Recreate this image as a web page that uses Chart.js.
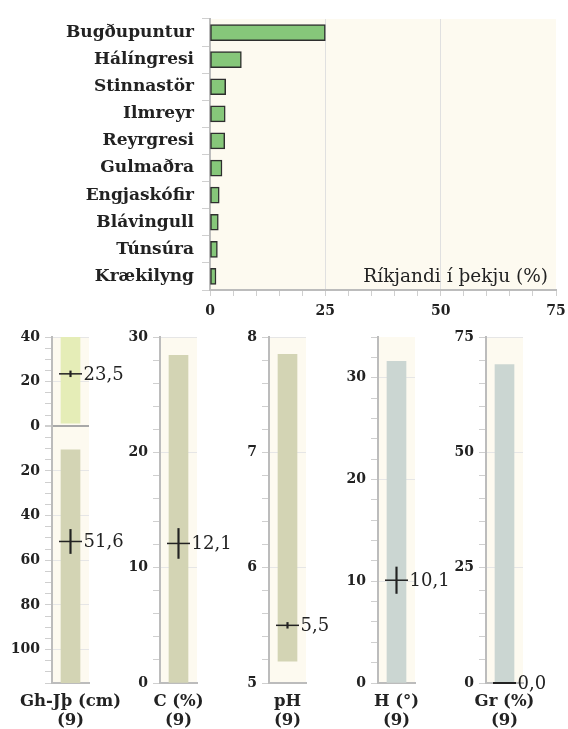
<!DOCTYPE html>
<html>
<head>
<meta charset="utf-8">
<script src="https://cdn.jsdelivr.net/npm/chart.js@4.4.1/dist/chart.umd.min.js"></script>
<style>
  html, body { margin: 0; padding: 0; background: #fff; }
  body { width: 568px; height: 729px; position: relative; overflow: hidden; }
  canvas { position: absolute; }
</style>
</head>
<body>
<canvas id="cover" width="568" height="320" style="left:0;top:0"></canvas>
<script>
// Ríkjandi tegundir
const species = ['Bugðupuntur', 'Hálíngresi', 'Stinnastör', 'Ilmreyr', 'Reyrgresi',
                 'Gulmaðra', 'Engjaskófir', 'Blávingull', 'Túnsúra', 'Krækilyng'];
const cover = [25.0, 6.8, 3.4, 3.3, 3.2, 2.6, 2.0, 1.8, 1.6, 1.3];
const coverTicks = [0, 25, 50, 75];
const coverTitle = 'Ríkjandi í þekju (%)';

// Litlu súlurnar
const panelNames = [['Gh-Jþ (cm)', '(9)'], ['C (%)', '(9)'], ['pH', '(9)'], ['H (°)', '(9)'], ['Gr (%)', '(9)']];
const panelMin = [-40, 0, 5, 0, 0];
const panelMax = [115, 30, 8, 34, 75];
const panelMinorStep = [5, 2, 0.2, 2, 5];
const panelMajorStep = [20, 10, 1, 10, 25];
const rangeLow = [10.5, 0, 5.19, 0, 0];
const rangeHigh = [115, 28.4, 7.85, 31.6, 69.0];
const meanValue = [51.6, 12.1, 5.5, 10.1, 0.0];
const meanError = [5.4, 1.3, 0.025, 1.3, 0];
// grunnvatnshæð ofan jarðar (teiknuð upp fyrir 0)
const ghRange = [-40, -1.4];
const ghMean = -23.5;
const ghError = 1.3;

const FONT = '"DejaVu Serif", serif';
const CREAM = '#fdfaf0';
const AXIS = '#bcbcbc';
const TICK = '#cfcfcf';
const INK = '#222';
const panelColors = ['#d3d4b4', '#d3d4b4', '#d3d4b4', '#cbd6d2', '#cbd6d2'];
const ghColor = '#e5edb7';
const panelAxisX = [52, 160, 269, 378, 486];

const fmt = v => Math.abs(v).toFixed(1).replace('.', ',');

// fylla teiknisvæðið með ljósum lit
const plotBg = {
  id: 'plotBg',
  beforeDraw(chart) {
    const a = chart.chartArea, ctx = chart.ctx;
    ctx.save();
    ctx.fillStyle = CREAM;
    ctx.fillRect(a.left, a.top, a.right - a.left, a.bottom - a.top);
    ctx.restore();
  }
};

// tölur við meðaltölin
const meanLabels = {
  id: 'meanLabels',
  afterDatasetsDraw(chart) {
    const ctx = chart.ctx;
    chart.data.datasets.forEach((ds, i) => {
      if (!ds.meanLabel) return;
      const pt = chart.getDatasetMeta(i).data[0];
      ctx.save();
      ctx.font = '18px ' + FONT;
      ctx.fillStyle = INK;
      ctx.textBaseline = 'middle';
      ctx.fillText(ds.meanLabel, pt.x + 13, pt.y + 1);
      ctx.restore();
    });
  }
};

// ásheiti inni í myndinni
const coverTitlePlugin = {
  id: 'coverTitle',
  afterDraw(chart) {
    const a = chart.chartArea, ctx = chart.ctx;
    ctx.save();
    ctx.font = '18.5px ' + FONT;
    ctx.fillStyle = INK;
    ctx.textAlign = 'right';
    ctx.textBaseline = 'alphabetic';
    ctx.fillText(coverTitle, a.right - 8, a.bottom - 8);
    ctx.restore();
  }
};

const noPad = s => { s.paddingLeft = 0; s.paddingRight = 0; s.paddingTop = 0; s.paddingBottom = 0; };

new Chart(document.getElementById('cover'), {
  type: 'bar',
  data: {
    labels: species,
    datasets: [{
      data: cover,
      backgroundColor: '#86c77a',
      borderColor: '#2e2e2e',
      borderWidth: 1.5,
      borderSkipped: false,
      barThickness: 16
    }]
  },
  options: {
    indexAxis: 'y',
    responsive: false,
    animation: false,
    layout: { padding: { top: 19, right: 12, left: 0, bottom: 0 } },
    plugins: { legend: { display: false }, tooltip: { enabled: false } },
    scales: {
      y: {
        afterFit: s => { s.width = 210; noPad(s); },
        ticks: { font: { family: FONT, size: 17, weight: 'bold' }, color: INK, padding: 8 },
        grid: { drawOnChartArea: false, tickLength: 8, tickColor: TICK, offset: true },
        border: { color: AXIS, width: 2 }
      },
      x: {
        min: 0, max: 75,
        afterFit: s => { s.height = 30; noPad(s); },
        ticks: {
          stepSize: 5, autoSkip: false, maxRotation: 0, maxTicksLimit: 100,
          font: { family: FONT, size: 14, weight: 'bold' }, color: INK, padding: 7,
          callback: v => coverTicks.includes(v) ? String(v) : ''
        },
        grid: {
          tickLength: 6, tickColor: TICK,
          color: c => (c.tick && (c.tick.value === 25 || c.tick.value === 50)) ? '#e0e0e0' : 'rgba(0,0,0,0)'
        },
        border: { color: AXIS, width: 2 }
      }
    }
  },
  plugins: [plotBg, coverTitlePlugin]
});

function isMajor(v, step) {
  const r = v / step;
  return Math.abs(r - Math.round(r)) < 1e-6;
}

panelNames.forEach((name, i) => {
  const cv = document.createElement('canvas');
  cv.width = 150; cv.height = 409;
  cv.style.left = (panelAxisX[i] - 52) + 'px';
  cv.style.top = '320px';
  document.body.appendChild(cv);

  const datasets = [];
  datasets.push({
    data: [[rangeLow[i], rangeHigh[i]]],
    backgroundColor: panelColors[i], barThickness: 19, grouped: false, order: 5
  });
  datasets.push({
    data: [[meanValue[i] - meanError[i], meanValue[i] + meanError[i]]],
    backgroundColor: INK, barThickness: 1.5, grouped: false, order: 2
  });
  datasets.push({
    type: 'line', data: [meanValue[i]], showLine: false, clip: false,
    pointStyle: 'line', pointRadius: 11.5, pointBorderWidth: i === 4 ? 2 : 1.5, pointBorderColor: INK,
    order: 1, meanLabel: fmt(meanValue[i])
  });
  if (i === 0) {
    datasets.push({
      data: [ghRange], backgroundColor: ghColor, barThickness: 19, grouped: false, order: 6
    });
    datasets.push({
      data: [[ghMean - ghError, ghMean + ghError]],
      backgroundColor: INK, barThickness: 1.5, grouped: false, order: 3
    });
    datasets.push({
      type: 'line', data: [ghMean], showLine: false, clip: false,
      pointStyle: 'line', pointRadius: 11.5, pointBorderWidth: 1.5, pointBorderColor: INK,
      order: 1, meanLabel: fmt(ghMean)
    });
  }

  new Chart(cv, {
    type: 'bar',
    data: { labels: [name], datasets },
    options: {
      responsive: false,
      animation: false,
      layout: { padding: { top: 17, right: 150 - 52 - 37, left: 0, bottom: 0 } },
      plugins: { legend: { display: false }, tooltip: { enabled: false } },
      scales: {
        x: {
          afterFit: s => { s.height = 46; noPad(s); },
          ticks: { font: { family: FONT, size: 16.5, weight: 'bold', lineHeight: 1.1 }, color: INK, padding: 2,
                   maxRotation: 0, minRotation: 0, autoSkip: false },
          grid: { display: false },
          border: { color: AXIS, width: 2 }
        },
        y: {
          min: panelMin[i], max: panelMax[i], reverse: i === 0,
          afterFit: s => { s.width = 52; noPad(s); },
          ticks: {
            stepSize: panelMinorStep[i], autoSkip: false, maxTicksLimit: 100,
            font: { family: FONT, size: 14, weight: 'bold' }, color: INK, padding: 5,
            callback: v => isMajor(v, panelMajorStep[i]) ? String(Math.abs(Math.round(v))) : ''
          },
          grid: {
            tickLength: 7, tickColor: TICK,
            color: c => {
              if (!c.tick) return 'rgba(0,0,0,0)';
              if (i === 0 && c.tick.value === 0) return '#a8a8a8';
              return isMajor(c.tick.value, panelMajorStep[i]) ? '#e6e6e6' : 'rgba(0,0,0,0)';
            },
            lineWidth: c => (i === 0 && c.tick && c.tick.value === 0) ? 2 : 1
          },
          border: { color: AXIS, width: 2 }
        }
      }
    },
    plugins: [plotBg, meanLabels]
  });
});
</script>
</body>
</html>
